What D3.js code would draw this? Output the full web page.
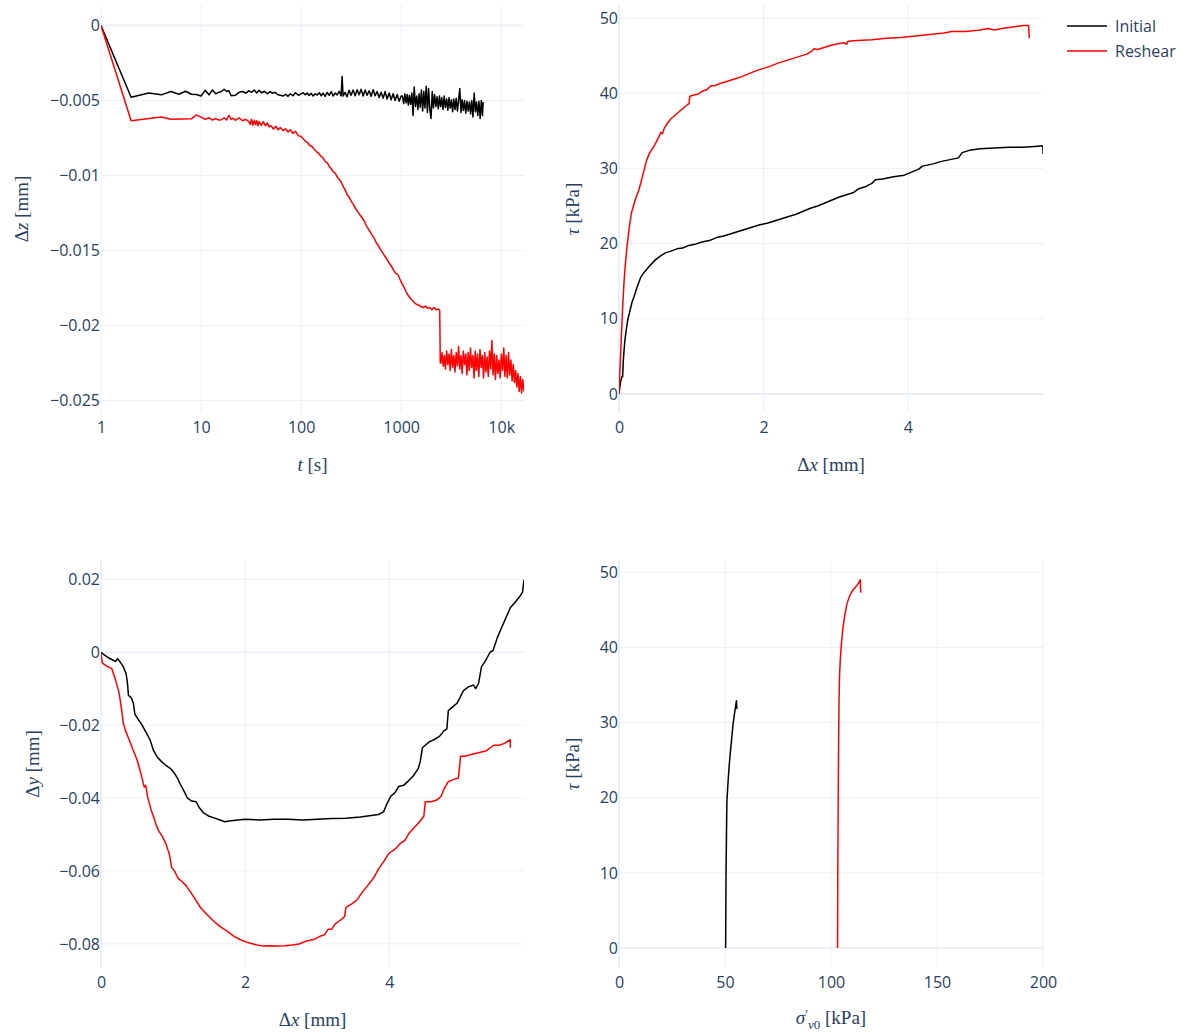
<!DOCTYPE html>
<html><head><meta charset="utf-8">
<script src="https://cdn.jsdelivr.net/npm/d3@7"></script>
<style>body{margin:0;background:#fff}svg{display:block}</style>
</head><body><svg id="c" width="1190" height="1035"></svg>
<script>
// ---------- DATA ----------
const seriesNames = ["Initial", "Reshear"];
const seriesColors = ["#000000", "#ff0000"];

// Panel 1: settlement vs time (log)
const tInitial = [1,2,3,4,5,6,7,8,9,10,11,12,13,14,15,16,17,18,19,20,22,24,26,28,30,32,34,36,38,40,43,46,49,52,55,58,62,66,70,74,78,83,88,94,100,
105,110,115,120,126,132,138,145,152,159,166,174,182,191,200,209,219,229,240,251,257,263,275,288,302,316,331,347,363,380,398,417,437,457,479,501,525,550,575,603,631,661,692,724,759,794,832,871,912,955,1000,
1030,1060,1090,1120,1150,1180,1210,1245,1280,1315,1350,1390,1430,1470,1510,1550,1595,1640,1685,1730,1780,1830,1880,1935,1990,2045,2100,2160,2220,2285,2350,2415,2480,2550,2620,2695,2770,2850,2930,3010,3095,3180,3270,3360,3455,3550,3650,3750,3855,3965,4075,4190,4305,4425,4550,4680,4810,4945,5080,5220,5370,5520,5670,5830,5990,6160,6330,6500,6600];
const dzInitial = [0,-0.00478,-0.00450,-0.00462,-0.00440,-0.00458,-0.00438,-0.00458,-0.00460,-0.00470,-0.00432,-0.00462,-0.00430,-0.00455,-0.00445,-0.00440,-0.00425,-0.00440,-0.00435,-0.00468,
-0.00465,-0.00445,-0.00440,-0.00450,-0.00435,-0.00445,-0.00430,-0.00450,-0.00432,-0.00448,-0.00438,-0.00455,-0.00440,-0.00452,-0.00445,-0.00460,-0.00465,-0.00470,-0.00458,-0.00472,-0.00455,-0.00468,-0.00448,-0.00465,-0.00455,
-0.00448,-0.00462,-0.00450,-0.00466,-0.00452,-0.00470,-0.00455,-0.00463,-0.00448,-0.00468,-0.00450,-0.00472,-0.00446,-0.00465,-0.00440,-0.00470,-0.00450,-0.00462,-0.00438,-0.00470,-0.00340,-0.00470,-0.00445,-0.00475,-0.00432,-0.00465,-0.00430,-0.00468,-0.00428,-0.00462,-0.00425,-0.00470,-0.00430,-0.00465,-0.00435,-0.00472,-0.00428,-0.00468,-0.00440,-0.00480,-0.00445,-0.00485,-0.00440,-0.00490,-0.00450,-0.00495,-0.00455,-0.00500,-0.00460,-0.00505,-0.00470,
-0.00470,-0.00520,-0.00455,-0.00515,-0.00460,-0.00530,-0.00465,-0.00525,-0.00450,-0.00600,-0.00410,-0.00540,-0.00470,-0.00560,-0.00455,-0.00545,-0.00430,-0.00570,-0.00440,-0.00550,-0.00405,-0.00580,-0.00420,-0.00560,-0.00620,-0.00440,-0.00550,-0.00460,-0.00540,-0.00475,-0.00555,-0.00470,-0.00540,-0.00480,-0.00560,-0.00470,-0.00545,-0.00490,-0.00565,-0.00480,-0.00550,-0.00495,-0.00575,-0.00490,-0.00560,-0.00485,-0.00570,-0.00500,-0.00420,-0.00580,-0.00495,-0.00565,-0.00500,-0.00585,-0.00505,-0.00570,-0.00510,-0.00590,-0.00500,-0.00610,-0.00450,-0.00575,-0.00510,-0.00600,-0.00505,-0.00620,-0.00500,-0.00600,-0.00510];

const tReshear = [1,2,4,5,8,9,10,11,12,13,14,15,16,17,18,19,20,21,22,24,26,28,30,31,32,33,34,35,36,37,38,40,42,44,46,48,50,53,56,59,62,66,70,74,78,83,88,94,100,
105,110,116,122,128,135,142,149,157,165,174,183,192,200,210,220,230,240,252,265,278,290,305,320,335,350,368,385,405,425,445,465,490,515,540,565,595,625,655,690,725,760,800,840,880,925,970,1020,1070,1120,1180,1240,1300,1370,1440,1510,1590,1670,1750,1840,1930,2030,2130,2240,2350,2430,2460,
2500,2560,2630,2700,2770,2850,2930,3010,3090,3180,3270,3360,3450,3550,3650,3750,3850,3960,4070,4180,4300,4420,4540,4670,4800,4930,5070,5210,5350,5500,5650,5810,5970,6140,6310,6480,6660,6850,7040,7230,7430,7640,7850,8070,8290,8520,8760,9000,9250,9510,9770,10040,10320,10610,10900,11200,11510,11830,12160,12500,12850,13200,13570,13950,14330,14730,15140,15560,15990,16430,16900];
const dzReshear = [0,-0.00635,-0.00610,-0.00625,-0.00622,-0.00595,-0.00610,-0.00625,-0.00615,-0.00630,-0.00620,-0.00630,-0.00628,-0.00615,-0.00630,-0.00598,-0.00625,-0.00618,-0.00632,-0.00615,-0.00635,-0.00625,-0.00640,-0.00660,-0.00625,-0.00665,-0.00632,-0.00660,-0.00635,-0.00668,-0.00640,-0.00665,-0.00640,-0.00668,-0.00650,-0.00675,-0.00668,-0.00690,-0.00672,-0.00695,-0.00680,-0.00700,-0.00688,-0.00710,-0.00695,-0.00720,-0.00705,-0.00735,-0.00740,
-0.00755,-0.00770,-0.00780,-0.00800,-0.00805,-0.00825,-0.00840,-0.00850,-0.00870,-0.00880,-0.00905,-0.00915,-0.00940,-0.00955,-0.00975,-0.00985,-0.01010,-0.01025,-0.01045,-0.01075,-0.01100,-0.01130,-0.01150,-0.01175,-0.01195,-0.01220,-0.01240,-0.01260,-0.01280,-0.01300,-0.01330,-0.01350,-0.01375,-0.01400,-0.01420,-0.01450,-0.01470,-0.01495,-0.01515,-0.01540,-0.01560,-0.01585,-0.01605,-0.01630,-0.01650,-0.01660,-0.01690,-0.01720,-0.01745,-0.01775,-0.01800,-0.01820,-0.01835,-0.01850,-0.01860,-0.01865,-0.01875,-0.01880,-0.01870,-0.01885,-0.01880,-0.01895,-0.01880,-0.01895,-0.01890,-0.01900,-0.02250,
-0.02250,-0.02180,-0.02270,-0.02200,-0.02290,-0.02170,-0.02260,-0.02190,-0.02300,-0.02160,-0.02280,-0.02200,-0.02310,-0.02180,-0.02270,-0.02140,-0.02290,-0.02200,-0.02320,-0.02170,-0.02260,-0.02190,-0.02330,-0.02180,-0.02300,-0.02150,-0.02280,-0.02200,-0.02350,-0.02170,-0.02300,-0.02190,-0.02340,-0.02160,-0.02280,-0.02200,-0.02350,-0.02180,-0.02310,-0.02210,-0.02340,-0.02170,-0.02290,-0.02100,-0.02330,-0.02190,-0.02360,-0.02200,-0.02320,-0.02230,-0.02350,-0.02190,-0.02300,-0.02150,-0.02340,-0.02200,-0.02350,-0.02180,-0.02330,-0.02230,-0.02370,-0.02260,-0.02380,-0.02300,-0.02410,-0.02320,-0.02440,-0.02340,-0.02450,-0.02360,-0.02440];

// Panel 2: shear stress vs horizontal displacement
const dxInitial = [0,0.02,0.04,0.05,0.06,0.08,0.10,0.12,0.15,0.18,0.21,0.25,0.30,0.35,0.42,0.50,0.58,0.65,0.72,0.80,0.88,0.95,1.05,1.15,1.25,1.35,1.45,1.55,1.65,1.75,1.85,1.95,2.05,2.15,2.25,2.35,2.45,2.55,2.65,2.75,2.85,2.95,3.05,3.15,3.25,3.32,3.42,3.50,3.55,3.65,3.80,3.95,4.05,4.15,4.20,4.35,4.45,4.60,4.70,4.75,4.85,5.00,5.20,5.40,5.60,5.75,5.87,5.87];
const tauInitial = [0,1.5,2.3,2.3,4.5,7,8.5,9.8,11,12.2,13,14.2,15.5,16.2,17.0,17.8,18.4,18.8,19.0,19.3,19.4,19.7,19.9,20.2,20.4,20.8,21.0,21.3,21.6,21.9,22.2,22.5,22.7,23.0,23.3,23.6,23.9,24.3,24.7,25.0,25.4,25.8,26.2,26.5,26.8,27.3,27.6,28.0,28.5,28.6,28.9,29.1,29.5,29.9,30.3,30.6,30.9,31.2,31.4,32.1,32.4,32.6,32.7,32.8,32.8,32.9,33.0,31.9];
const dxReshear = [0,0.01,0.03,0.05,0.07,0.09,0.11,0.14,0.17,0.20,0.23,0.27,0.30,0.34,0.38,0.42,0.46,0.50,0.55,0.58,0.60,0.63,0.67,0.72,0.78,0.84,0.90,0.95,0.97,0.98,1.05,1.10,1.16,1.22,1.27,1.32,1.40,1.50,1.60,1.70,1.80,1.90,2.00,2.10,2.20,2.30,2.40,2.50,2.60,2.67,2.70,2.75,2.85,2.95,3.05,3.12,3.15,3.17,3.30,3.50,3.70,3.90,4.10,4.30,4.50,4.60,4.80,5.00,5.10,5.20,5.30,5.45,5.60,5.67,5.68];
const tauReshear = [0,2.5,7,11.5,15,17.5,19.5,22,24,25,26,27,28,29.5,31,32,32.6,33.2,34.2,34.8,34.6,35.4,36,36.6,37.1,37.6,38.1,38.5,38.6,39.6,39.8,39.9,40.3,40.5,41.0,41.0,41.3,41.6,41.9,42.2,42.6,43.0,43.3,43.6,44.0,44.3,44.6,44.9,45.2,45.6,45.9,45.8,46.1,46.4,46.6,46.7,46.5,46.9,47.0,47.1,47.3,47.4,47.6,47.8,48.0,48.2,48.2,48.4,48.6,48.4,48.6,48.8,49.0,49.0,47.3];

// Panel 3: vertical displacement vs horizontal displacement
const dx2Initial = [0,0.05,0.10,0.15,0.20,0.23,0.27,0.31,0.35,0.37,0.38,0.42,0.45,0.47,0.52,0.57,0.62,0.68,0.73,0.78,0.84,0.90,0.97,1.02,1.06,1.10,1.15,1.20,1.26,1.32,1.36,1.42,1.50,1.58,1.65,1.72,1.80,1.90,2.00,2.20,2.40,2.60,2.80,3.00,3.20,3.40,3.60,3.75,3.85,3.92,3.97,4.02,4.08,4.13,4.20,4.27,4.33,4.40,4.43,4.46,4.50,4.56,4.62,4.70,4.76,4.80,4.82,4.88,4.94,4.98,5.03,5.10,5.17,5.20,5.24,5.28,5.33,5.40,5.44,5.50,5.56,5.62,5.68,5.75,5.80,5.85,5.87];
const dyInitial = [0,-0.0008,-0.0015,-0.0020,-0.0025,-0.0018,-0.0028,-0.0040,-0.0060,-0.0090,-0.0118,-0.0125,-0.0140,-0.0170,-0.0185,-0.0200,-0.0218,-0.0240,-0.0270,-0.0287,-0.0300,-0.0310,-0.0320,-0.0332,-0.0345,-0.0362,-0.0380,-0.0400,-0.0408,-0.0410,-0.0425,-0.0440,-0.0450,-0.0455,-0.0460,-0.0465,-0.0462,-0.0460,-0.0458,-0.0460,-0.0458,-0.0458,-0.0460,-0.0458,-0.0456,-0.0455,-0.0452,-0.0448,-0.0445,-0.0438,-0.0415,-0.0395,-0.0385,-0.0368,-0.0365,-0.0352,-0.0340,-0.0320,-0.0300,-0.0262,-0.0255,-0.0245,-0.0240,-0.0230,-0.0215,-0.0210,-0.0160,-0.0150,-0.0140,-0.0125,-0.0105,-0.0095,-0.0090,-0.0100,-0.0085,-0.0040,-0.0025,0.0000,0.0005,0.0040,0.0068,0.0095,0.0122,0.0138,0.0150,0.0165,0.0199];
const dx2Reshear = [0,0.02,0.08,0.15,0.20,0.25,0.28,0.31,0.34,0.40,0.45,0.50,0.55,0.60,0.62,0.65,0.70,0.76,0.80,0.85,0.90,0.95,0.98,1.02,1.07,1.12,1.18,1.25,1.30,1.38,1.45,1.55,1.65,1.75,1.85,1.95,2.05,2.15,2.25,2.35,2.45,2.55,2.65,2.75,2.85,2.95,3.05,3.10,3.15,3.20,3.25,3.32,3.38,3.40,3.48,3.55,3.62,3.70,3.78,3.85,3.92,4.00,4.08,4.15,4.22,4.28,4.35,4.42,4.48,4.50,4.58,4.66,4.72,4.76,4.82,4.88,4.96,4.99,5.05,5.15,5.25,5.35,5.45,5.52,5.60,5.68,5.68];
const dyReshear = [-0.0005,-0.0030,-0.0038,-0.0045,-0.0075,-0.0110,-0.0150,-0.0195,-0.0215,-0.0245,-0.0270,-0.0295,-0.0330,-0.0370,-0.0365,-0.0400,-0.0435,-0.0470,-0.0490,-0.0505,-0.0525,-0.0555,-0.0590,-0.0600,-0.0620,-0.0628,-0.0640,-0.0660,-0.0675,-0.0700,-0.0715,-0.0735,-0.0752,-0.0765,-0.0780,-0.0790,-0.0797,-0.0802,-0.0806,-0.0805,-0.0806,-0.0805,-0.0803,-0.0800,-0.0792,-0.0788,-0.0778,-0.0775,-0.0760,-0.0760,-0.0745,-0.0735,-0.0725,-0.0700,-0.0690,-0.0680,-0.0660,-0.0640,-0.0620,-0.0595,-0.0575,-0.0550,-0.0540,-0.0525,-0.0515,-0.0495,-0.0480,-0.0465,-0.0450,-0.0410,-0.0410,-0.0405,-0.0395,-0.0375,-0.0355,-0.0350,-0.0345,-0.0285,-0.0285,-0.0280,-0.0275,-0.0270,-0.0255,-0.0255,-0.0250,-0.0240,-0.0262];

// Panel 4: shear stress vs effective vertical stress
const sigInitial = [50.3,50.4,50.5,50.7,50.9,51.3,51.9,52.5,53.2,53.8,54.4,55.0,55.4,55.6];
const tau2Initial = [0,5,10,15,19.5,21.5,24,26,28,29.8,31,32.2,32.9,31.8];
const sigReshear = [103.1,103.2,103.4,103.6,103.8,104.0,104.4,104.9,105.6,106.5,107.5,108.7,110.0,111.5,112.8,113.8,114.0];
const tau2Reshear = [0,10,20,28,33,36,38.5,40.5,42.5,44.3,45.8,46.8,47.5,48.0,48.5,49.0,47.3];

// tick values / labels
const tTicks = [1,10,100,1000,10000];
const tTickLabels = ["1","10","100","1000","10k"];
const dzTicks = [0,-0.005,-0.01,-0.015,-0.02,-0.025];
const dxTicks = [0,2,4];
const tauTicks = [0,10,20,30,40,50];
const dyTicks = [0.02,0,-0.02,-0.04,-0.06,-0.08];
const sigTicks = [0,50,100,150,200];

// ---------- DRAWING ----------
const GRID = "#ebf0f8", TXT = "#2a3f5f";
const TICKFONT = "16px", TITLEFONT = "19px";
const svg = d3.select("#c");
const fmt = v => String(v).replace("-", "\u2212");

function panel(o) {
  const g = svg.append("g");
  const [x0, x1] = o.x.range(), [y1, y0] = o.y.range();
  const id = "clip" + o.id;
  svg.append("clipPath").attr("id", id).append("rect")
    .attr("x", x0).attr("y", y0).attr("width", x1 - x0).attr("height", y1 - y0);
  g.selectAll(".vg").data(o.xTicks).join("line")
    .attr("x1", d => o.x(d)).attr("x2", d => o.x(d)).attr("y1", y0).attr("y2", y1)
    .attr("stroke", GRID).attr("stroke-width", d => (o.xZero && d === 0) ? 2 : 1);
  g.selectAll(".hg").data(o.yTicks).join("line")
    .attr("y1", d => o.y(d)).attr("y2", d => o.y(d)).attr("x1", x0).attr("x2", x1)
    .attr("stroke", GRID).attr("stroke-width", d => d === 0 ? 2 : 1);
  const ax = g.append("g").attr("transform", `translate(0,${y1})`)
    .call(d3.axisBottom(o.x).tickValues(o.xTicks).tickSize(0).tickPadding(9).tickFormat((d, i) => o.xFmt(d, i)));
  const ay = g.append("g").attr("transform", `translate(${x0},0)`)
    .call(d3.axisLeft(o.y).tickValues(o.yTicks).tickSize(0).tickPadding(1).tickFormat(o.yFmt));
  [ax, ay].forEach(a => {
    a.select(".domain").remove();
    a.selectAll("text").attr("fill", TXT).style("font-family", "'Open Sans', sans-serif").style("font-size", TICKFONT);
  });
  const line = d3.line().x(d => o.x(d[0])).y(d => o.y(d[1]));
  o.series.forEach((s, i) => {
    g.append("path").datum(d3.zip(s[0], s[1]))
      .attr("clip-path", `url(#${id})`)
      .attr("fill", "none").attr("stroke", seriesColors[i]).attr("stroke-width", 1.5)
      .attr("stroke-linejoin", "round").attr("d", line);
  });
  const xt = svg.append("text").attr("x", (x0 + x1) / 2).attr("y", o.xTitleY)
    .attr("text-anchor", "middle").attr("fill", TXT)
    .style("font-family", "'Liberation Serif', 'DejaVu Serif', serif").style("font-size", TITLEFONT);
  o.xTitle(xt);
  const yt = svg.append("text").attr("transform", `translate(${o.yTitleX},${(y0 + y1) / 2}) rotate(-90)`)
    .attr("text-anchor", "middle").attr("dy", "0.35em").attr("fill", TXT)
    .style("font-family", "'Liberation Serif', 'DejaVu Serif', serif").style("font-size", TITLEFONT);
  o.yTitle(yt);
}
function label(sel, parts) {
  parts.forEach(p => {
    const t = sel.append("tspan").text(p[0]);
    if (p[1]) t.style("font-style", "italic");
    if (p[2]) t.attr("dy", p[2]);
    if (p[3]) t.style("font-size", p[3]);
  });
}

const L1 = 101, R1 = 524, L2 = 619, R2 = 1043;
const T1 = 5, B1 = 413, T2 = 560, B2 = 968;

panel({
  id: 1,
  x: d3.scaleLog().domain([1, 16900]).range([L1, R1]),
  y: d3.scaleLinear().domain([-0.02583, 0.00137]).range([B1, T1]),
  xTicks: tTicks, yTicks: dzTicks,
  xFmt: (d, i) => tTickLabels[i], yFmt: fmt,
  series: [[tInitial, dzInitial], [tReshear, dzReshear]],
  xTitleY: 471, yTitleX: 21,
  xTitle: s => label(s, [["t", 1], [" [s]"]]),
  yTitle: s => label(s, [["Δ"], ["z", 1], [" [mm]"]])
});
panel({
  id: 2, xZero: true,
  x: d3.scaleLinear().domain([0, 5.87]).range([L2, R2]),
  y: d3.scaleLinear().domain([-2.53, 51.73]).range([B1, T1]),
  xTicks: dxTicks, yTicks: tauTicks,
  xFmt: d => fmt(d), yFmt: fmt,
  series: [[dxInitial, tauInitial], [dxReshear, tauReshear]],
  xTitleY: 471, yTitleX: 572,
  xTitle: s => label(s, [["Δ"], ["x", 1], [" [mm]"]]),
  yTitle: s => label(s, [["τ", 1], [" [kPa]"]])
});
panel({
  id: 3, xZero: true,
  x: d3.scaleLinear().domain([0, 5.87]).range([L1, R1]),
  y: d3.scaleLinear().domain([-0.0866, 0.0253]).range([B2, T2]),
  xTicks: dxTicks, yTicks: dyTicks,
  xFmt: d => fmt(d), yFmt: fmt,
  series: [[dx2Initial, dyInitial], [dx2Reshear, dyReshear]],
  xTitleY: 1026, yTitleX: 32,
  xTitle: s => label(s, [["Δ"], ["x", 1], [" [mm]"]]),
  yTitle: s => label(s, [["Δ"], ["y", 1], [" [mm]"]])
});
panel({
  id: 4, xZero: true,
  x: d3.scaleLinear().domain([0, 200]).range([L2, R2]),
  y: d3.scaleLinear().domain([-2.66, 51.64]).range([B2, T2]),
  xTicks: sigTicks, yTicks: tauTicks,
  xFmt: d => fmt(d), yFmt: fmt,
  series: [[sigInitial, tau2Initial], [sigReshear, tau2Reshear]],
  xTitleY: 1024, yTitleX: 572,
  xTitle: s => {
    s.append("tspan").style("font-style", "italic").text("σ");
    s.append("tspan").attr("dy", "-6").style("font-size", "13px").text("′");
    s.append("tspan").attr("dy", "11").style("font-size", "13px").style("font-style", "italic").text("v");
    s.append("tspan").style("font-size", "13px").text("0");
    s.append("tspan").attr("dy", "-5").text(" [kPa]");
  },
  yTitle: s => label(s, [["τ", 1], [" [kPa]"]])
});

// legend
const lg = svg.append("g");
seriesNames.forEach((n, i) => {
  const y = 26 + i * 25;
  lg.append("line").attr("x1", 1067).attr("x2", 1107).attr("y1", y).attr("y2", y)
    .attr("stroke", seriesColors[i]).attr("stroke-width", 1.5);
  lg.append("text").attr("x", 1115).attr("y", y).attr("dy", "0.35em").attr("fill", TXT)
    .style("font-family", "'Open Sans', sans-serif").style("font-size", TICKFONT).text(n);
});
</script></body></html>
